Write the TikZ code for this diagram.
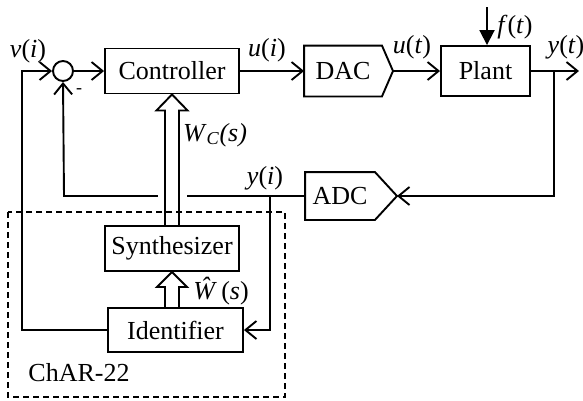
\documentclass[tikz,border=0pt]{standalone}
\usepackage{fontspec}
\setmainfont{Liberation Serif}
\usetikzlibrary{arrows.meta,calc}
\begin{document}
\begin{tikzpicture}[x=1pt,y=-1pt,line width=1.9pt,
  font=\fontsize{26}{30}\selectfont,
  blk/.style={draw,rectangle,inner sep=0pt,anchor=center},
  lbl/.style={inner sep=0pt,anchor=center},
  arr/.style={-{Straight Barb[length=11pt,width=18pt,line width=1.9pt]}},
  farr/.style={-{Triangle[length=15pt,width=15pt]}},
  dbl/.style={line join=miter}]
\useasboundingbox (0,0) rectangle (583,400);
% blocks
\node[blk,minimum width=134pt,minimum height=45pt] (ctrl) at (172,71) {Controller};
\node[inner sep=0pt,minimum width=76pt,minimum height=49pt] (dac) at (343,71) {DAC};
\coordinate (dactip) at (393,71);
\draw[line join=miter] (dac.north west) -- (dac.north east) -- (dactip) -- (dac.south east) -- (dac.south west) -- cycle;
\node[blk,minimum width=89pt,minimum height=50pt] (plant) at (485.5,71) {Plant};
\node[inner sep=0pt,minimum width=68pt,minimum height=46pt] (adc) at (340,196) {ADC};
\coordinate (adctip) at (397,196);
\draw[line join=miter] (adc.north west) -- (adc.north east) -- (adctip) -- (adc.south east) -- (adc.south west) -- cycle;
\node[blk,minimum width=134pt,minimum height=45pt] (synth) at (172,248.5) {Synthesizer};
\node[blk,minimum width=135pt,minimum height=44pt] (ident) at (175.5,330) {Identifier};
\node[draw,circle,minimum size=20pt,inner sep=0pt] (sum) at (63,71) {};
% dashed box
\draw[dash pattern=on 6pt off 4pt,line width=1.6pt] (8,212) rectangle (285,397);
\node[lbl] (charlbl) at (79,373) {ChAR-22};
% coordinates
\coordinate (vin) at (22,71);
\coordinate (ftop) at (487,7);
\coordinate (yout) at (579,71);
\coordinate (ybr) at (554,71);
\coordinate (fb) at (64,196);
\coordinate (yibr) at (270,196);
% connectors
\draw[arr] (ident.west) -- (22,330) -- (vin) -- (sum.west);
\draw[arr] (sum.east) -- (ctrl.west);
\draw[arr] (ctrl.east) -- (dac.west);
\draw[arr] (dactip) -- (plant.west);
\draw[farr] (ftop) -- (plant.north -| ftop);
\draw[arr] (plant.east) -- (yout);
\draw[arr] (ybr) -- (ybr |- adctip) -- (adctip);
\draw[arr] (adc.west) -- (fb) -- (sum.south);
\draw[arr] (yibr) -- (yibr |- ident.east) -- (ident.east);
\fill[white] (157.5,191) rectangle (186.5,201);
% double arrows
\draw[dbl] ($(synth.north)+(-7,0)$) -- ($(ctrl.south)+(-7,16)$) -- ($(ctrl.south)+(-15.5,16)$)
  -- (ctrl.south) -- ($(ctrl.south)+(15.5,16)$) -- ($(ctrl.south)+(7,16)$) -- ($(synth.north)+(7,0)$);
\draw[dbl] ($(ident.north)+(-10.5,0)$) -- ($(synth.south)+(-7,15)$) -- ($(synth.south)+(-15,15)$)
  -- (synth.south) -- ($(synth.south)+(15,15)$) -- ($(synth.south)+(7,15)$) -- ($(ident.north)+(3.5,0)$);
% labels
\node[lbl] (lv) at (28,51) {\textit{v}(\textit{i})};
\node[lbl] (lui) at (267,50) {\textit{u}(\textit{i})};
\node[lbl] (lut) at (412,47) {\textit{u}(\textit{t})};
\node[lbl] (lft) at (515,27) {\textit{f}(\textit{t})};
\node[lbl] (lyt) at (566,47) {\textit{y}(\textit{t})};
\node[lbl] (lyi) at (265,178) {\textit{y}(\textit{i})};
\node[lbl] (lwc) at (215,135) {\textit{W}\textsubscript{\textit{C}}\textit{(s)}};
\node[lbl] (lwh) at (221,291) {\textit{\^{W}}\,(\textit{s})};
\node[lbl,font=\fontsize{18}{20}\selectfont] (lminus) at (79,91) {-};
\end{tikzpicture}
\end{document}
